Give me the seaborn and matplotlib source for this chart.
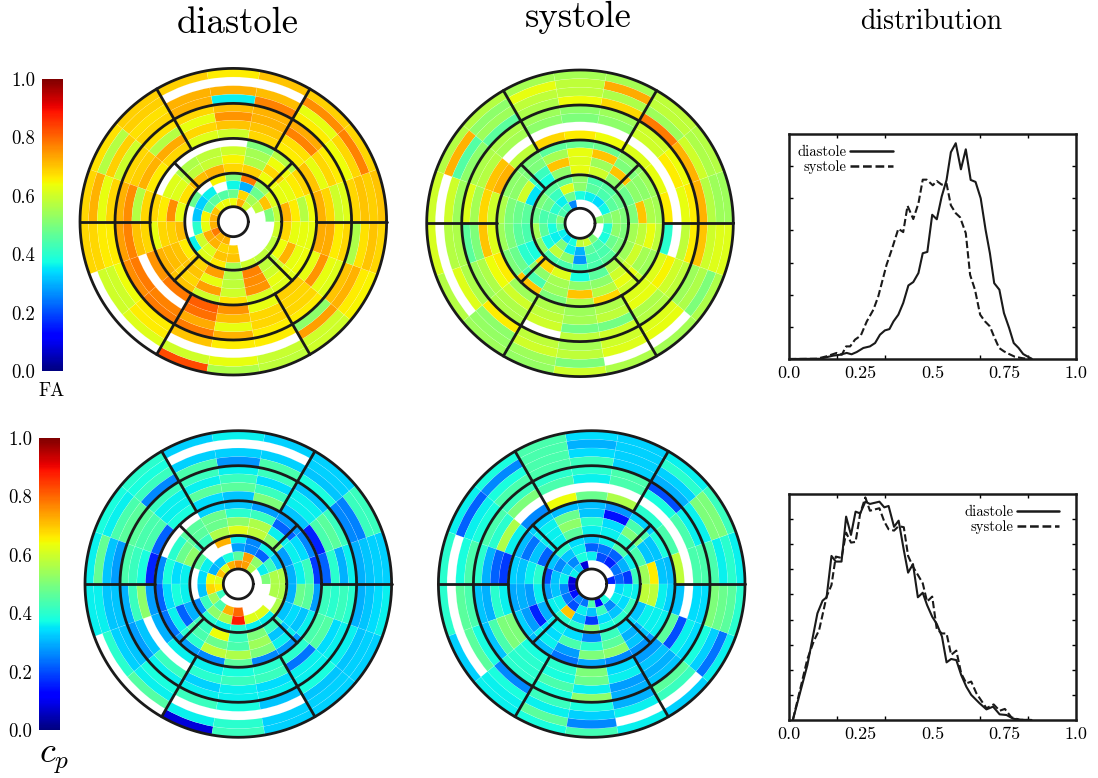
"""
Bullseye maps of FA and c_p with their distributions.
"""
import matplotlib
matplotlib.use('Agg')
import matplotlib.pyplot as plt
import seaborn as sns
import numpy as np

N = np.nan

# values x100, one row per ring (outer to inner), 18 sectors counter-clockwise from east
fa_diastole = [
    [70, 68, 69, 70, 66, 69, 69, 67, 68, 68, N, N, 83, 56, 58, 60, 65, 68],
    [69, 77, 76, N, N, N, 69, 57, 72, 68, 60, 62, 60, 63, 59, 60, 66, 70],
    [70, 68, 63, 71, 72, 72, 67, 69, 63, 66, 60, 66, N, N, N, 74, 72, 67],
    [68, 64, 66, 77, 36, 72, 68, 60, 68, 66, 64, 66, 70, 66, 66, 52, 70, 56],
    [62, 66, 73, 72, 71, 68, 67, 68, 72, 74, 76, 78, 78, 72, 66, 66, 62, 68],
    [60, 68, 77, 72, 75, 63, 57, 69, 76, 77, 78, 77, 73, 63, 68, 68, 63, 66],
    [68, 63, 67, 70, 70, 68, 73, 72, 57, 70, N, N, 79, 71, 68, 68, 75, 73],
    [72, 70, 66, 68, 60, 62, 68, 66, 68, 68, 75, 78, 81, 75, 63, 69, 63, 73],
    [64, 68, 57, 50, N, N, N, N, 68, 63, 72, 70, 60, 67, 61, 62, 64, 63],
    [57, 66, 64, 55, 60, 58, 56, 62, 66, 68, 71, 68, 74, 60, 75, 63, 63, 63],
    [66, 63, 68, 56, 65, 59, 58, 62, 76, 69, 70, 70, 63, 58, 76, 60, 72, 63],
    [72, 63, 64, 69, 68, 72, 71, 67, 63, 71, 66, 68, 74, 57, 77, 58, 64, 68],
    [58, 62, 54, 78, 50, 65, N, 48, N, N, 36, 62, 66, 55, 60, 58, 58, 60],
    [50, 70, 48, 30, 37, N, 36, 33, 32, 40, 60, 62, 70, 70, N, N, N, N],
    [N, 58, 55, 68, 48, 45, 46, 45, 65, 63, 73, 72, 68, 69, N, N, N, N],
    [N, N, 60, 72, 64, 64, 64, 70, 72, 72, 78, 72, 72, N, N, N, N, N],
]
fa_systole = [
    [54, 57, 58, 55, 55, 55, 57, 57, 60, 61, 57, 54, 53, 60, 56, 55, 56, 62],
    [54, 56, 58, 73, 58, 63, 52, 72, N, N, N, 53, 54, 50, N, N, 50, 62],
    [57, 60, 54, 56, 58, 58, 54, 45, 60, 57, 62, 52, 60, 58, 62, 63, 56, 60],
    [72, 72, 78, 68, 64, 56, 46, 52, 54, 56, 56, 66, 58, 55, 60, 62, 54, 70],
    [66, 64, 60, 54, 52, 54, 56, 56, 62, 46, 54, 56, N, 58, 60, 57, 58, 66],
    [63, 66, 60, 52, 50, 52, 55, 57, 55, 50, 56, 56, 60, 49, 49, 56, 60, 58],
    [N, N, N, N, N, N, N, 70, 68, 70, 64, 60, 58, 55, 58, 63, 65, N],
    [66, 63, 62, 64, 66, 68, 58, 72, 60, 62, 66, 54, 56, 54, 56, 62, 62, 40],
    [55, 54, 52, 48, 47, 46, 50, 52, 56, 54, 50, 70, 50, 56, 68, 60, 54, 58],
    [56, 52, 50, 70, 63, 55, 50, 52, 50, 50, 48, 44, 54, 70, 57, 63, 55, 63],
    [70, 52, 70, 54, 62, 70, 42, 60, 48, 46, 40, 52, 55, 52, 52, 60, 60, 58],
    [50, 48, 52, 60, 63, 52, 38, 35, 46, 44, 38, 68, 62, 38, 46, 56, 54, 55],
    [50, 48, 45, 44, 52, 47, 46, 50, 48, 55, 52, 44, 44, 42, 44, 46, 50, 50],
    [52, 46, 44, 46, 52, 62, 42, 48, 44, 46, 38, 58, 52, 27, 44, 44, 48, 52],
    [50, 37, 34, 36, 38, 48, 36, 40, 44, 38, 36, 50, 36, 30, 46, 44, 38, 40],
    [52, N, N, N, N, 26, 42, 44, 50, 46, 36, 34, 38, 58, 60, 50, N, N],
]
cp_diastole = [
    [33, 42, 33, 33, 36, 33, 40, 38, 36, 36, N, N, 8, 42, 33, 33, 33, 36],
    [33, 42, 33, N, N, N, 38, 36, 47, 36, 40, 45, 36, 40, 33, 33, 33, 34],
    [32, 25, 32, 33, 33, 33, 42, 44, 32, 32, 33, 36, N, N, N, 32, 32, 32],
    [30, 26, 38, 44, 27, 44, 26, 46, 28, 32, 32, 38, 42, 38, 32, 38, 36, 30],
    [36, 42, 32, 42, 36, 42, 42, 46, 44, 30, 28, 36, 36, 36, 36, 36, 36, 40],
    [30, 46, 36, 34, 42, 36, 36, 44, 42, 42, 32, 42, 33, 36, 34, 36, 34, 42],
    [40, 44, 36, 42, 46, 46, 36, 44, 38, 52, N, N, 40, 42, 42, 24, 45, 40],
    [22, 16, 32, 50, 32, 34, 38, 22, 16, 28, 30, 36, 36, 38, 40, 40, 44, 42],
    [18, 26, 28, 28, 32, 33, N, N, 26, 22, 24, 28, 26, 46, 26, 28, 36, 28],
    [42, 34, 22, 42, 40, 48, 46, 40, 38, 34, 36, 40, 58, 56, 50, 36, 32, 46],
    [36, 36, 36, 56, 52, 48, 46, 48, 34, 38, 22, 44, 48, 44, 54, 32, 34, 48],
    [30, 28, 52, 58, 62, 56, 42, 52, 36, 36, 30, 42, 64, 42, 50, 42, 32, 30],
    [56, 32, 36, 26, 36, 72, N, 46, N, N, 26, 40, 36, 40, 36, 36, 56, 56],
    [56, 42, 22, 26, 28, N, N, 36, 34, 32, 42, 52, 56, 88, 62, 62, N, 56],
    [50, 36, 52, 74, 46, 38, 32, 30, 64, 68, 54, 44, 72, 80, N, N, N, N],
    [N, N, 56, 74, 76, 72, 62, 70, 62, 66, 42, N, N, N, N, N, N, N],
]
cp_systole = [
    [36, 42, 36, 33, 34, 44, 38, 36, 40, 40, 33, 36, 38, 43, 36, 33, 36, 40],
    [40, 50, 40, 33, 30, 44, 26, 22, N, N, N, 36, 46, 26, N, N, 24, 46],
    [36, 50, 33, 33, 34, 44, 38, 36, 38, 46, 46, 38, 36, 33, 36, 42, 33, 48],
    [44, 36, 30, 33, 42, 44, 44, 38, 44, 44, 38, 26, 42, 38, 30, 46, 38, 50],
    [44, 36, 20, 44, 40, 40, 42, 44, 40, 32, 32, 40, 38, 52, 30, 32, 34, 34],
    [44, 44, 38, 44, 36, 44, 50, 40, 30, 30, 44, 40, 44, 36, 28, 30, 36, 34],
    [N, N, N, N, N, N, N, 56, 22, 40, 50, 40, 38, 48, 36, 32, 20, N],
    [58, 44, 40, 56, 48, 64, 26, 36, 18, 36, 50, 38, 40, 50, 34, 28, 46, 32],
    [31, 38, 33, 27, 31, 31, 33, 31, 33, 29, 33, 31, 24, 29, 26, 27, 36, 33],
    [32, 32, 44, 14, 32, 48, 36, 24, 32, 30, 28, 36, 28, 50, 52, 32, 36, 36],
    [66, 32, 50, 34, 40, 52, 36, 32, 36, 28, 16, 34, 44, 40, 46, 30, 36, 58],
    [54, 44, 40, 36, 36, 46, 36, 22, 40, 36, 30, 36, 34, 26, 42, 34, 32, 58],
    [42, 36, 44, 36, 32, 34, 40, 32, 20, 28, 36, 40, 40, 50, 38, 40, 42, 36],
    [18, 30, 22, 24, 22, 36, 32, 26, 32, 32, 36, 70, 32, 18, 34, 32, 34, 36],
    [22, 24, 16, 20, 36, 38, 26, 32, 36, 26, 24, 20, 36, 32, 42, 26, 36, 34],
    [16, N, N, N, N, 8, 32, 36, 8, 8, 14, 26, 24, 44, 12, 38, N, N],
]

# distribution curves, fraction of the axis height
fa_dia_x = [0, .108, .154, .178, .201, .218, .236, .259, .282, .300, .317, .334, .350, .364, .381, .398, .416, .433, .451, .466, .482, .499, .515, .532, .549, .564, .581, .599, .616, .633, .650, .668, .685, .700, .715, .733, .749, .767, .783, .800, .816, .834, .846]
fa_dia_y = [0, .001, .015, .019, .027, .021, .031, .049, .056, .071, .108, .127, .133, .167, .197, .249, .327, .342, .382, .470, .476, .641, .621, .722, .796, .919, .959, .843, .932, .796, .787, .714, .574, .470, .337, .308, .204, .138, .071, .049, .022, .009, .001]
fa_sys_x = [0, .096, .131, .166, .184, .199, .213, .230, .250, .271, .294, .311, .340, .358, .381, .398, .413, .433, .451, .466, .480, .501, .515, .532, .549, .564, .581, .596, .616, .631, .648, .666, .683, .700, .714, .732, .749, .767, .787, .816, .846]
fa_sys_y = [0, .001, .012, .027, .019, .056, .056, .086, .104, .167, .219, .278, .419, .486, .579, .564, .681, .622, .692, .797, .797, .772, .791, .775, .779, .683, .648, .630, .559, .374, .308, .197, .167, .145, .101, .049, .034, .022, .010, .003, 0]
cp_dia_x = [.014, .064, .099, .117, .131, .148, .163, .183, .199, .216, .232, .248, .266, .282, .315, .332, .347, .366, .382, .400, .415, .432, .449, .466, .481, .499, .515, .533, .549, .565, .583, .600, .618, .635, .664, .688, .711, .734, .758, .781, .804, .845]
cp_dia_y = [.003, .243, .472, .528, .543, .726, .701, .701, .900, .819, .922, .914, .966, .956, .966, .941, .947, .855, .882, .752, .652, .690, .543, .563, .509, .457, .425, .369, .255, .270, .265, .199, .147, .111, .074, .047, .059, .025, .022, .006, .001, 0]
cp_sys_x = [.014, .064, .087, .105, .131, .148, .163, .183, .199, .216, .232, .248, .266, .282, .315, .332, .347, .366, .382, .400, .415, .432, .449, .466, .481, .499, .515, .533, .549, .565, .583, .600, .618, .635, .653, .688, .713, .734, .752, .775, .804, .845]
cp_sys_y = [.003, .270, .351, .398, .546, .597, .723, .717, .829, .785, .788, .914, .985, .926, .937, .878, .844, .838, .858, .853, .726, .678, .642, .605, .524, .546, .401, .383, .383, .288, .307, .206, .162, .170, .118, .052, .069, .041, .049, .012, .001, 0]

W, H = 1098, 778
R_OUT, R_HOLE = 153.3, 15.0
ZONES = [118.3, 83.3, 48.5]

sns.set_theme(style='ticks')
plt.rcParams['font.family'] = ['cmr10', 'DejaVu Serif']
plt.rcParams['mathtext.fontset'] = 'cm'
plt.rcParams['axes.formatter.use_mathtext'] = True
plt.rcParams['text.color'] = 'black'
plt.rcParams['xtick.color'] = 'black'
plt.rcParams['ytick.color'] = 'black'

jet = matplotlib.colormaps['jet']


def px_axes(fig, x0, y0, x1, y1, **kw):
    return fig.add_axes([x0 / W, 1 - y1 / H, (x1 - x0) / W, (y1 - y0) / H], **kw)


def plot_bullseye(fig, values, cx, cy):
    box = R_OUT + 4
    ax = px_axes(fig, cx - box, cy - box, cx + box, cy + box, projection='polar')
    ax.set_ylim(0, box)
    ax.axis('off')

    values = np.array(values, dtype=float) / 100
    edges = np.linspace(R_OUT, R_HOLE, values.shape[0] + 1)
    width = np.deg2rad(20)
    for i, row in enumerate(values):
        for k, v in enumerate(row):
            if np.isnan(v):
                continue
            ax.bar((k + 0.5) * width, edges[i] - edges[i + 1], width=width,
                   bottom=edges[i + 1], color=jet(v), edgecolor=(1, 1, 1, 0.25), linewidth=0.3)

    # segment outlines
    circle = np.linspace(0, 2 * np.pi, 361)
    for r in [R_OUT] + ZONES + [R_HOLE]:
        ax.plot(circle, np.full_like(circle, r), color='k', lw=2.0, clip_on=False)
    for deg in range(0, 360, 60):
        ax.plot([np.deg2rad(deg)] * 2, [ZONES[1], R_OUT], color='k', lw=2.0)
    for deg in range(45, 360, 90):
        ax.plot([np.deg2rad(deg)] * 2, [ZONES[2], ZONES[1]], color='k', lw=2.0)


def plot_colorbar(fig, x0, y0, x1, y1):
    cax = px_axes(fig, x0, y0, x1, y1)
    sm = plt.cm.ScalarMappable(norm=plt.Normalize(0, 1), cmap=jet)
    cb = fig.colorbar(sm, cax=cax, ticks=[0, .2, .4, .6, .8, 1], format='%.1f')
    cb.outline.set_visible(False)
    cax.yaxis.set_ticks_position('left')
    cax.tick_params(length=0, pad=5, labelsize=13.5)


def plot_distribution(fig, y0, y1, dia_x, dia_y, sys_x, sys_y, n_ticks, legend_anchor):
    ax = px_axes(fig, 789, y0, 1076, y1)
    sns.lineplot(x=dia_x, y=dia_y, ax=ax, color='k', lw=1.5, sort=False, estimator=None, label='diastole')
    sns.lineplot(x=sys_x, y=sys_y, ax=ax, color='k', lw=1.5, sort=False, estimator=None,
                 linestyle=(0, (3.5, 1.5)), label='systole')
    ax.set_xlim(0, 1)
    ax.set_ylim(0, 1)
    ax.set_xticks([0, .25, .5, .75, 1])
    ax.set_xticklabels(['0.0', '0.25', '0.5', '0.75', '1.0'])
    ax.set_xticks(np.arange(1, 6) / 6, minor=True)
    ax.set_yticks(np.arange(1, n_ticks) / n_ticks)
    ax.set_yticklabels([])
    ax.tick_params(axis='x', which='major', length=0, pad=5, labelsize=13)
    ax.tick_params(which='minor', length=3, width=1, direction='in', top=True, bottom=True)
    ax.tick_params(axis='y', length=3, width=1, direction='in', left=True, right=True)
    for s in ax.spines.values():
        s.set_linewidth(1.8)
        s.set_color('k')
    legend = ax.legend(loc='upper left', bbox_to_anchor=legend_anchor, frameon=False, markerfirst=False,
                       fontsize=10.6, handlelength=2.9, handletextpad=0.25, labelspacing=0.1,
                       borderpad=0, borderaxespad=0, alignment='right')
    for line in legend.get_lines():
        line.set_linewidth(1.8)


fig = plt.figure(figsize=(W / 100, H / 100), dpi=100)

plot_bullseye(fig, fa_diastole, 233.3, 221.7)
plot_bullseye(fig, fa_systole, 580.0, 223.3)
plot_bullseye(fig, cp_diastole, 238.3, 584.0)
plot_bullseye(fig, cp_systole, 591.7, 584.0)

plot_colorbar(fig, 42, 79, 63, 371)
plot_colorbar(fig, 39, 438, 60, 730)

plot_distribution(fig, 134, 359, fa_dia_x, fa_dia_y, fa_sys_x, fa_sys_y, 7, (0.03, 0.95))
plot_distribution(fig, 494, 720, cp_dia_x, cp_dia_y, cp_sys_x, cp_sys_y, 9, (0.61, 0.95))

fig.text(238 / W, 1 - 33 / H, 'diastole', fontsize=26.3, ha='center', va='baseline')
fig.text(578 / W, 1 - 27 / H, 'systole', fontsize=26.3, ha='center', va='baseline')
fig.text(931 / W, 1 - 29 / H, 'distribution', fontsize=20, ha='center', va='baseline')
fig.text(52 / W, 1 - 396 / H, 'FA', fontsize=13.5, ha='center', va='baseline')
fig.text(54 / W, 1 - 763 / H, '$c_p$', fontsize=26, ha='center', va='baseline')

plt.savefig('out.png', dpi=100)
